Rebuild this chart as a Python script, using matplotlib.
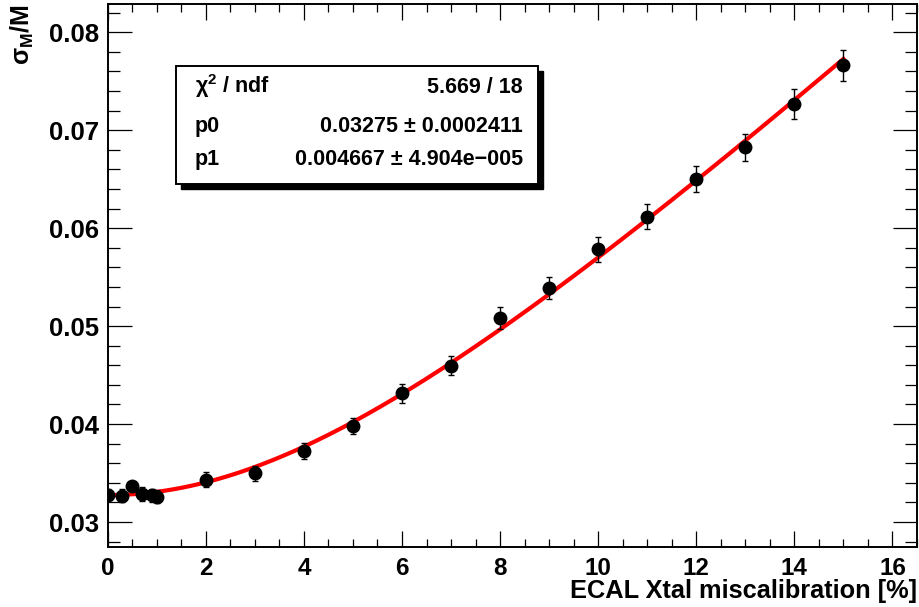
import numpy as np
import matplotlib
matplotlib.use("Agg")
import matplotlib.pyplot as plt
from matplotlib.patches import Rectangle
from matplotlib.ticker import MultipleLocator

plt.rcParams['font.family'] = ['Liberation Sans', 'DejaVu Sans']
plt.rcParams['font.weight'] = 'bold'
plt.rcParams['mathtext.default'] = 'regular'

# Miscalibration scan: resolution sigma_M/M vs crystal miscalibration [%]
miscal = [0, 0.3, 0.5, 0.7, 0.9, 1.0, 2, 3, 4, 5, 6, 7, 8, 9, 10, 11, 12, 13, 14, 15]
sigma_rel = [0.03280, 0.03270, 0.03366, 0.03283, 0.03272, 0.03260, 0.03430, 0.03497,
             0.03725, 0.03980, 0.04314, 0.04596, 0.05086, 0.05392, 0.05787, 0.06117,
             0.06502, 0.06826, 0.07265, 0.07663]
sigma_err = [0.00060, 0.00065, 0.00045, 0.00070, 0.00070, 0.00070, 0.00077, 0.00075,
             0.00078, 0.00085, 0.00097, 0.00099, 0.00112, 0.00114, 0.00128, 0.00130,
             0.00134, 0.00140, 0.00155, 0.00158]

# Fit sqrt(p0^2 + (p1*x)^2)
chi2_ndf = "5.669 / 18"
p0, p0_err = 0.03275, "0.0002411"
p1, p1_err = 0.004667, "4.904e\u2212005"

W, H = 920, 607
fig = plt.figure(figsize=(W / 100, H / 100), dpi=100)
fig.patch.set_facecolor('white')

def fx(px):
    return px / W

def fy(py):
    return 1 - py / H

L, R, T, B = 107.7, 917.0, 4.3, 547.0
ax = fig.add_axes([fx(L), fy(B), fx(R) - fx(L), fy(T) - fy(B)])
ax.set_xlim(0, 16.5)
ax.set_ylim(0.02745, 0.08286)

xf = np.linspace(0, 15, 400)
ax.plot(xf, np.sqrt(p0**2 + (p1 * xf)**2), color='#ff0000', lw=3.0, zorder=2)
ax.errorbar(miscal, sigma_rel, yerr=sigma_err, fmt='o', color='black', ms=9,
            elinewidth=1.0, capsize=2.3, capthick=1.0, zorder=3)

ax.xaxis.set_major_locator(MultipleLocator(2))
ax.xaxis.set_minor_locator(MultipleLocator(0.5))
ax.yaxis.set_major_locator(MultipleLocator(0.01))
ax.yaxis.set_minor_locator(MultipleLocator(0.002))
ax.tick_params(axis='both', which='both', direction='in', top=True, right=True,
               width=0.9, color='black')
ax.tick_params(axis='x', which='major', length=11.5, pad=7)
ax.tick_params(axis='x', which='minor', length=5.8)
ax.tick_params(axis='y', which='major', length=17, pad=6)
ax.tick_params(axis='y', which='minor', length=8.5)
for s in ax.spines.values():
    s.set_linewidth(1.4)

ax.set_yticks([0.03, 0.04, 0.05, 0.06, 0.07, 0.08])
ax.set_yticklabels(['0.03', '0.04', '0.05', '0.06', '0.07', '0.08'],
                   fontsize=18.5, fontweight='bold')
xt = [0, 2, 4, 6, 8, 10, 12, 14, 16]
ax.set_xticks(xt)
ax.set_xticklabels([str(v) for v in xt], fontsize=17.5, fontweight='bold')

fig.text(fx(917), fy(591), 'ECAL Xtal miscalibration [%]', ha='right', va='center',
         fontsize=18.3, fontweight='bold')
fig.text(fx(22), fy(4), 'σ$_{M}$/M', rotation=90, ha='center', va='top',
         fontsize=18, fontweight='bold')

# statistics box with shadow
bx0, by0, bx1, by1 = 176, 66, 538, 184
sh = 5
fig.patches.append(Rectangle((fx(bx0 + sh), fy(by1 + sh)), fx(bx1 - bx0), fy(by0) - fy(by1),
                             transform=fig.transFigure, facecolor='black', edgecolor='black',
                             zorder=5))
fig.patches.append(Rectangle((fx(bx0), fy(by1)), fx(bx1 - bx0), fy(by0) - fy(by1),
                             transform=fig.transFigure, facecolor='white', edgecolor='black',
                             lw=1.4, zorder=6))
rows = [('χ$^{2}$ / ndf', chi2_ndf),
        ('p0', f"{p0} \u00b1 {p0_err}"),
        ('p1', f"{p1} \u00b1 {p1_err}")]
row_y = [93, 132, 165]
for (lab, val), yy in zip(rows, row_y):
    fig.text(fx(195), fy(yy), lab, ha='left', va='baseline', fontsize=15.5,
             fontweight='bold', zorder=7)
    fig.text(fx(523), fy(yy), val, ha='right', va='baseline', fontsize=15.5,
             fontweight='bold', zorder=7)

fig.savefig('out.png', dpi=100, facecolor='white')
